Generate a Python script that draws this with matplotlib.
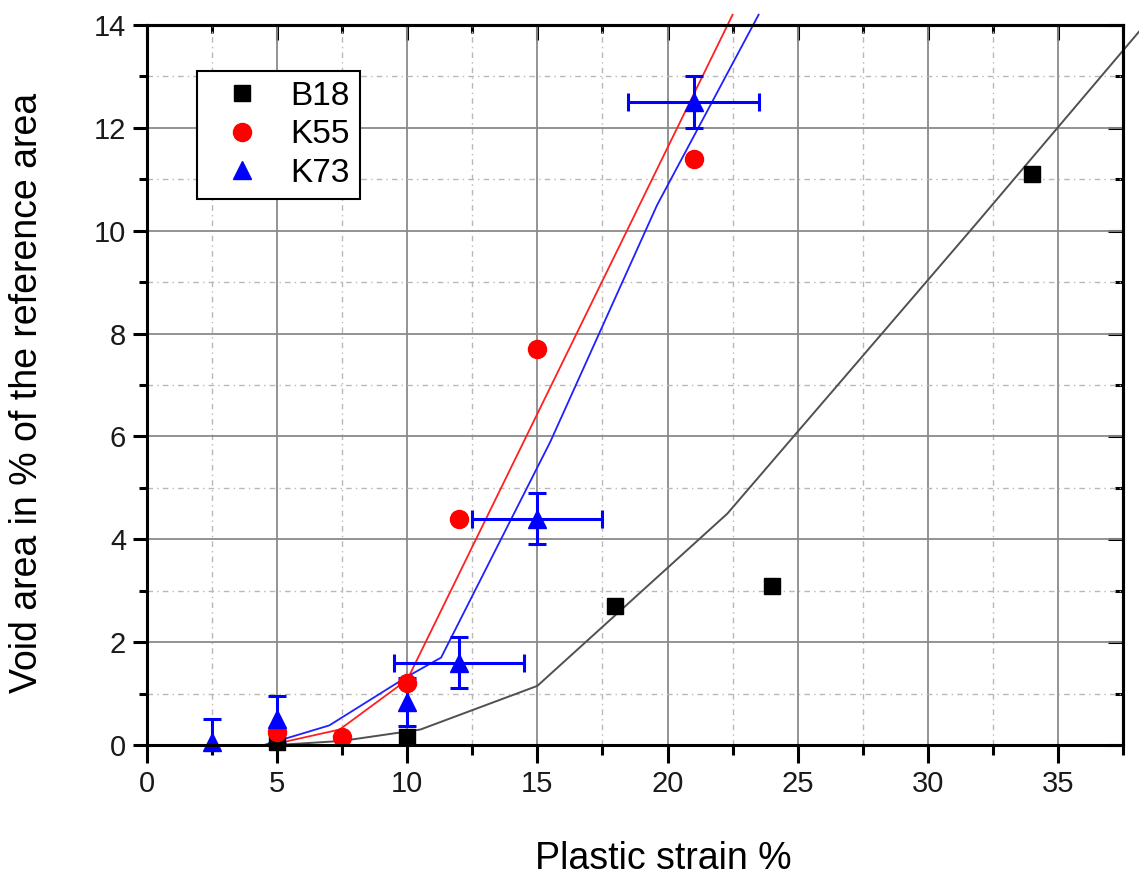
import numpy as np
import matplotlib
matplotlib.use("Agg")
import matplotlib.pyplot as plt
from matplotlib import font_manager
from matplotlib.ticker import MultipleLocator

# ---------------- data ----------------
b18_x = [5, 10, 18, 24, 34]
b18_y = [0.05, 0.15, 2.7, 3.1, 11.1]

k55_x = [5, 7.5, 10, 12, 15, 21]
k55_y = [0.25, 0.15, 1.2, 4.4, 7.7, 11.4]

k73_x = [2.5, 5, 10, 12, 15, 21]
k73_y = [0.05, 0.5, 0.83, 1.6, 4.4, 12.5]
k73_yerr = [0.45, 0.46, 0.47, 0.5, 0.5, 0.5]
k73_xerr = [0, 0, 0, 2.5, 2.5, 2.5]

# fitted curves (polylines)
b18_fit_x = [5, 7.5, 10.5, 15, 22.3, 31.8, 38.5]
b18_fit_y = [0.0, 0.08, 0.3, 1.15, 4.5, 10.1, 14.1]
k55_fit_x = [5, 7.4, 10, 22.5]
k55_fit_y = [0.03, 0.3, 1.27, 14.2]
k73_fit_x = [4.5, 7.0, 10, 11.3, 15.5, 19.6, 23.5]
k73_fit_y = [0.0, 0.38, 1.33, 1.7, 5.9, 10.5, 14.2]

series_labels = ["B18", "K55", "K73"]
x_label = "Plastic strain %"
y_label = "Void area in % of the reference area"

# ---------------- fonts ----------------
try:
    font_manager.findfont("Liberation Sans Narrow", fallback_to_default=False)
    narrow = True
except Exception:
    narrow = False

if narrow:
    fam = ["Liberation Sans Narrow", "Liberation Sans", "DejaVu Sans"]
    fs_tick, fs_leg, fs_lab = 25, 28, 32
else:
    fam = ["Liberation Sans", "DejaVu Sans"]
    fs_tick, fs_leg, fs_lab = 21, 24, 27

plt.rcParams["font.family"] = fam

fig = plt.figure(figsize=(11.39, 8.77), dpi=100)
ax = fig.add_axes([147 / 1139, 1 - 745 / 877, 976 / 1139, 720 / 877])

ax.set_xlim(0, 37.5)
ax.set_ylim(0, 14)

# grid
ax.xaxis.set_major_locator(MultipleLocator(5))
ax.xaxis.set_minor_locator(MultipleLocator(2.5))
ax.yaxis.set_major_locator(MultipleLocator(2))
ax.yaxis.set_minor_locator(MultipleLocator(1))
ax.grid(which="major", color="#8a8a8a", linewidth=1.3, linestyle="-", zorder=0)
ax.grid(which="minor", color="#b8b8b8", linewidth=1.0,
        linestyle=(0, (4, 3, 1, 3)), zorder=0)
ax.set_axisbelow(True)

# fits
ax.plot(b18_fit_x, b18_fit_y, color="#505050", lw=1.4, zorder=2, clip_on=False)
ax.plot(k55_fit_x, k55_fit_y, color="#ff2020", lw=1.3, zorder=2, clip_on=False)
ax.plot(k73_fit_x, k73_fit_y, color="#2020ff", lw=1.3, zorder=2, clip_on=False)

# error bars for K73
kx = np.array(k73_x, dtype=float)
ky = np.array(k73_y, dtype=float)
kye = np.array(k73_yerr, dtype=float)
kxe = np.array(k73_xerr, dtype=float)
m = kxe > 0
ax.errorbar(kx[~m], ky[~m], yerr=kye[~m], fmt="none", ecolor="#0000ff",
            elinewidth=2.2, capsize=6.5, capthick=2.2, zorder=3)
ax.errorbar(kx[m], ky[m], yerr=kye[m], xerr=kxe[m], fmt="none", ecolor="#0000ff",
            elinewidth=2.2, capsize=6.5, capthick=2.2, zorder=3, clip_on=False)

# markers
h1, = ax.plot(b18_x, b18_y, "s", color="black", ms=11, ls="none", zorder=4,
              clip_on=False, label=series_labels[0])
h2, = ax.plot(k55_x, k55_y, "o", color="#ff0000", ms=13, ls="none", zorder=4,
              clip_on=False, label=series_labels[1])
h3, = ax.plot(k73_x, k73_y, "^", color="#0000ff", ms=13, ls="none", zorder=5,
              clip_on=False, label=series_labels[2])

# spines and ticks
for s in ax.spines.values():
    s.set_linewidth(2.2)
    s.set_color("black")
    s.set_zorder(6)

ax.tick_params(axis="x", which="major", direction="out", length=13, width=2.2,
               labelsize=fs_tick, pad=5, top=False, colors="black",
               labelcolor="#1a1a1a")
ax.tick_params(axis="x", which="minor", direction="out", length=7, width=2.2, top=False)
ax.tick_params(axis="y", which="major", direction="out", length=10, width=2.2,
               labelsize=fs_tick, pad=5, right=False, labelcolor="#1a1a1a")
ax.tick_params(axis="y", which="minor", direction="out", length=6, width=2.2, right=False)

# inward ticks on top and right
axt = ax.secondary_xaxis("top")
axt.xaxis.set_major_locator(MultipleLocator(5))
axt.xaxis.set_minor_locator(MultipleLocator(2.5))
axt.tick_params(which="major", direction="in", length=11, width=2.2, labeltop=False)
axt.tick_params(which="minor", direction="in", length=6, width=2.2)
axt.spines["top"].set_linewidth(2.2)
axr = ax.secondary_yaxis("right")
axr.yaxis.set_major_locator(MultipleLocator(2))
axr.yaxis.set_minor_locator(MultipleLocator(1))
axr.tick_params(which="major", direction="in", length=11, width=2.2, labelright=False)
axr.tick_params(which="minor", direction="in", length=6, width=2.2)
axr.spines["right"].set_linewidth(2.2)

# labels
ax.set_xlabel(x_label, fontsize=fs_lab, color="black")
ax.xaxis.set_label_coords(0.529, -0.133)
ax.set_ylabel(y_label, fontsize=fs_lab, color="black")
ax.yaxis.set_label_coords(-0.104, 0.489)

# legend
leg = ax.legend(handles=[h1, h2, h3], loc="upper left",
                bbox_to_anchor=(0.051, 0.936), fontsize=fs_leg,
                frameon=True, fancybox=False, edgecolor="black",
                framealpha=1, borderpad=0.3, handlelength=2.1,
                handletextpad=0.4, labelspacing=0.22, borderaxespad=0,
                markerscale=1.0)
leg.get_frame().set_linewidth(1.5)
leg.set_zorder(7)

fig.savefig("out.png", dpi=100)
